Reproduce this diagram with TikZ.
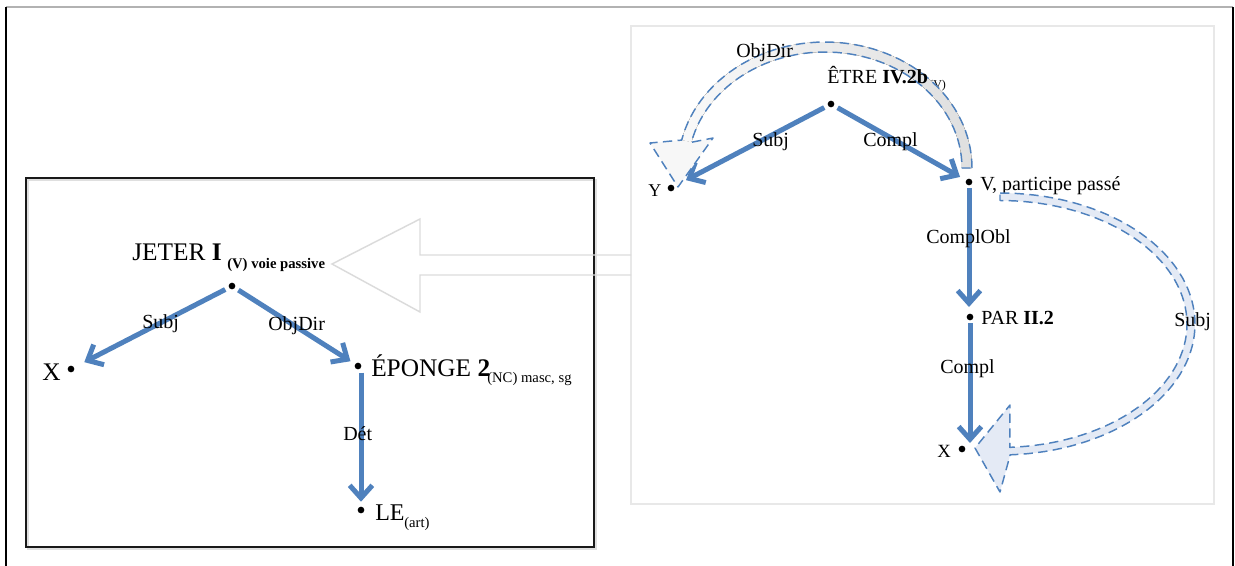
\documentclass[tikz,border=0pt]{standalone}
\usepackage{fontspec}
\setmainfont{Liberation Serif}
\usetikzlibrary{arrows.meta}
\definecolor{dblue}{RGB}{79,129,189}
\definecolor{bandblue}{RGB}{228,234,245}
\begin{document}
\begin{tikzpicture}[x=0.75pt,y=-0.75pt,
  dot/.style={circle, fill=black, inner sep=0pt, minimum size=5pt},
  dep/.style={draw=dblue, line width=3.75pt, -{Straight Barb[length=9.5pt,width=17pt]}},
  dashband/.style={draw=dblue, line width=1.1pt, dash pattern=on 7pt off 4pt, line join=round},
  txt/.style={anchor=base west, inner sep=0pt},
  big/.style={txt, font=\fontsize{19}{22}\selectfont},
  mid/.style={txt, font=\fontsize{15}{18}\selectfont},
  sub/.style={txt, font=\fontsize{11}{13}\selectfont},
  lbl/.style={txt, font=\fontsize{15}{18}\selectfont}]
\useasboundingbox (0,0) rectangle (1235,565);
% outer frame
\draw[gray!60, line width=1.5pt] (6,7) -- (1233,7);
\draw[black, line width=1.5pt] (6,7) -- (6,570) (1233,7) -- (1233,570);
% right box
\draw[gray!18, line width=2pt] (631,26) rectangle (1214,504);
% left box with shadow
\draw[gray!25, line width=1.5pt] (27.5,179.5) rectangle (595.5,548.5);
\draw[black!90, line width=1.5pt] (26,178) rectangle (594,547);
% big hollow arrow
\draw[gray!28, line width=1.1pt, line join=miter]
  (631,255) -- (420,255) -- (420,219) -- (332,264) -- (420,312) -- (420,275) -- (631,275);

% dots
\node[dot] (jeter) at (232,286) {};
\node[dot] (xl) at (71,369) {};
\node[dot] (eponge) at (358,366) {};
\node[dot] (le) at (361,510) {};
\node[dot] (etre) at (831,104) {};
\node[dot] (y) at (671,188) {};
\node[dot] (v) at (969,182) {};
\node[dot] (par) at (970,317) {};
\node[dot] (xr) at (962,449) {};

% texts
\node[big] (tjeter) at (132,260) {JETER \textbf{I}};
\node[sub] (tjetersub) at (227,268) {\textbf{(V) voie passive}};
\node[big] (txl) at (42,380) {X};
\node[big] (teponge) at (371,376) {ÉPONGE \textbf{2}};
\node[sub] (tepongesub) at (487,382) {(NC) masc, sg};
\node[big, font=\fontsize{18}{21}\selectfont] (tle) at (375,520) {LE};
\node[sub] (tlesub) at (404,527) {(art)};
\node[txt, font=\fontsize{9}{11}\selectfont] (tetresub) at (929,88) {(V)};
\node[txt, font=\fontsize{13.5}{16}\selectfont] (ty) at (648,196) {Y};
\node[mid] (tv) at (980,190) {V, participe passé};
\node[mid] (tpar) at (981,324) {PAR \textbf{II.2}};
\node[txt, font=\fontsize{14}{16}\selectfont] (txr) at (937,457) {X};

% dependency arrows
\draw[dep, shorten <=3pt, shorten >=8.5pt] (jeter) -- (xl);
\draw[dep, shorten <=3pt, shorten >=4pt] (jeter) -- (eponge);
\draw[dep, shorten <=5pt, shorten >=3.5pt] (le |- eponge) -- (le);
\draw[dep, shorten <=3pt, shorten >=10pt] (etre) -- (y);
\draw[dep, shorten <=3pt, shorten >=5pt] (etre) -- (v);
\draw[dep, shorten <=2pt, shorten >=7.5pt] (v) -- (v |- par);
\draw[dep, shorten <=2pt, shorten >=4.5pt] (par) -- (par |- xr);

% curved arrow ObjDir
\fill[left color=gray!5, right color=gray!25]
  plot[domain=0:167.2, samples=60, variable=\t] ({825+147*cos(\t)},{168-126*sin(\t)})
  -- plot[domain=167.2:0, samples=60, variable=\t] ({825+137*cos(\t)},{168-116*sin(\t)}) -- cycle;
\fill[gray!6] (681.7,140.1) -- (650,143) -- (678,187) -- (713,138) -- (691.5,142.3) -- cycle;
\draw[dashband]
  plot[domain=0:167.2, samples=60, variable=\t] ({825+147*cos(\t)},{168-126*sin(\t)})
  -- (650,143) -- (678,187) -- (713,138)
  -- plot[domain=167.2:0, samples=60, variable=\t] ({825+137*cos(\t)},{168-116*sin(\t)}) -- cycle;
\node[mid] (tetre) at (827,83) {ÊTRE \textbf{IV.2b}};

% curved arrow Subj
\fill[bandblue]
  plot[domain=90:-87, samples=70, variable=\t] ({1000+195*cos(\t)},{324-131*sin(\t)})
  -- (1000,492) -- (975,448) -- (1010,405)
  -- plot[domain=-87:90, samples=70, variable=\t] ({1000+187*cos(\t)},{324-123.5*sin(\t)}) -- cycle;
\draw[dashband]
  plot[domain=90:-87, samples=70, variable=\t] ({1000+195*cos(\t)},{324-131*sin(\t)})
  -- (1000,492) -- (975,448) -- (1010,405)
  -- plot[domain=-87:90, samples=70, variable=\t] ({1000+187*cos(\t)},{324-123.5*sin(\t)}) -- cycle;

% labels
\node[lbl] (l1) at (142,328) {Subj};
\node[lbl] (l2) at (268,330) {ObjDir};
\node[lbl] (l3) at (343,440) {Dét};
\node[lbl] (l4) at (752,146) {Subj};
\node[lbl] (l5) at (863,146) {Compl};
\node[lbl] (l6) at (926,243) {ComplObl};
\node[lbl] (l7) at (940,373) {Compl};
\node[lbl] (l8) at (1174,326) {Subj};
\node[lbl] (l9) at (736,57) {ObjDir};
\end{tikzpicture}
\end{document}
